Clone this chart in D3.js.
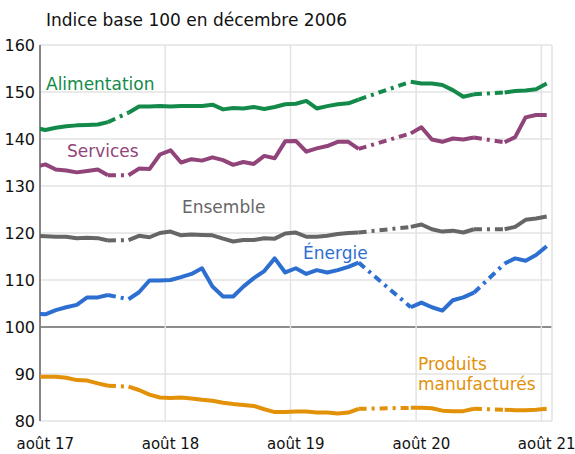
<!DOCTYPE html>
<html><head><meta charset="utf-8">
<script src="https://cdn.jsdelivr.net/npm/d3@7"></script>
<style>body{margin:0;background:#fff} text{font-family:"DejaVu Sans",sans-serif}</style>
</head><body><svg id="c" width="575" height="454"></svg>
<script>
// Monthly data, July 2017 .. August 2021 (null = no observation, drawn dashed)
const firstMonth = "2017-07";
const lastMonth = "2021-08";
const alimentation = [142.4,141.9,142.4,142.7,142.9,143.0,143.1,143.6,null,145.6,146.9,146.9,147.0,146.9,147.0,147.0,147.0,147.3,146.3,146.6,146.5,146.8,146.4,146.8,147.4,147.5,148.1,146.5,147.0,147.4,147.6,148.4,null,null,null,null,152.2,151.8,151.8,151.5,150.4,149.0,149.5,null,null,149.9,150.2,150.3,150.6,151.8];
const services = [134.0,134.6,133.5,133.3,132.9,133.2,133.5,132.3,null,132.3,133.7,133.6,136.7,137.6,135.0,135.7,135.4,136.1,135.5,134.5,135.1,134.7,136.4,135.9,139.5,139.6,137.3,138.0,138.5,139.4,139.4,137.9,null,null,null,null,141.2,142.5,139.9,139.4,140.1,139.9,140.3,null,null,139.3,140.4,144.6,145.1,145.1];
const ensemble = [119.4,119.3,119.2,119.2,118.9,119.0,118.9,118.4,null,118.5,119.4,119.1,120.0,120.3,119.5,119.7,119.6,119.5,118.8,118.2,118.5,118.5,118.9,118.8,119.9,120.1,119.2,119.2,119.4,119.8,120.0,120.1,null,null,null,null,121.3,121.8,120.8,120.3,120.5,120.1,120.8,null,null,120.8,121.3,122.8,123.1,123.5];
const energie = [102.8,102.7,103.6,104.2,104.7,106.3,106.3,106.8,null,105.9,107.4,109.9,109.9,110.0,110.6,111.3,112.5,108.6,106.5,106.5,108.6,110.4,111.9,114.6,111.6,112.5,111.3,112.1,111.6,112.1,112.8,113.7,null,null,null,null,104.2,105.2,104.2,103.5,105.7,106.3,107.3,null,null,113.5,114.6,114.1,115.3,117.2];
const produits = [89.4,89.4,89.4,89.2,88.7,88.6,88.0,87.5,null,87.3,86.6,85.6,85.0,84.9,85.0,84.8,84.5,84.3,83.9,83.6,83.4,83.2,82.5,81.9,81.9,82.0,82.0,81.8,81.8,81.6,81.8,82.6,null,null,null,null,82.8,82.8,82.7,82.2,82.1,82.1,82.6,null,null,82.4,82.3,82.3,82.4,82.6];
const yTicks = [80,90,100,110,120,130,140,150,160];
const xTickMonths = ["2017-08","2018-08","2019-08","2020-08","2021-08"];
const xTickLabels = ["août 17","août 18","août 19","août 20","août 21"];
const title = "Indice base 100 en décembre 2006";

const seriesList = [
  {name:"Alimentation", values:alimentation, color:"#138a4a", lines:["Alimentation"], lx:46, ly:90},
  {name:"Services", values:services, color:"#914479", lines:["Services"], lx:67, ly:157},
  {name:"Ensemble", values:ensemble, color:"#666666", lines:["Ensemble"], lx:182, ly:213},
  {name:"Énergie", values:energie, color:"#2d6fd1", lines:["Énergie"], lx:303, ly:259},
  {name:"Produits manufacturés", values:produits, color:"#e39109", lines:["Produits","manufacturés"], lx:418, ly:370}
];

const W=575,H=454, L=40, R=552, T=45, B=421;
const parse = d3.timeParse("%Y-%m");
const months = d3.timeMonth.range(parse(firstMonth), d3.timeMonth.offset(parse(lastMonth),1));
const x = d3.scaleTime().domain([parse("2017-08"), parse("2021-09")]).range([L,R]);
const y = d3.scaleLinear().domain([80,160]).range([B,T]);
const mid = d => (x(d) + x(d3.timeMonth.offset(d,1)))/2;

const svg = d3.select("#c");
svg.append("defs").append("clipPath").attr("id","clip").append("rect")
  .attr("x",L).attr("y",T-5).attr("width",R-L).attr("height",B-T+10);

const grid = svg.append("g");
grid.selectAll("line.h").data(yTicks).join("line")
  .attr("x1",L).attr("x2",R).attr("y1",d=>y(d)).attr("y2",d=>y(d))
  .attr("stroke",d=>d===100?"#666":"#e3e3e3").attr("stroke-width",1.5);
grid.selectAll("line.v").data(xTickMonths.map(parse)).join("line")
  .attr("x1",d=>x(d)).attr("x2",d=>x(d)).attr("y1",T).attr("y2",B)
  .attr("stroke","#e3e3e3").attr("stroke-width",1.5);
grid.append("line").attr("x1",R).attr("x2",R).attr("y1",T).attr("y2",B).attr("stroke","#e3e3e3").attr("stroke-width",1.5);
grid.append("line").attr("x1",L).attr("x2",L).attr("y1",T).attr("y2",B).attr("stroke","#666").attr("stroke-width",1.5);

svg.append("g").selectAll("text").data(yTicks).join("text")
  .attr("x",35).attr("y",d=>y(d)).attr("dy","0.36em").attr("text-anchor","end")
  .attr("font-size",16).attr("fill","#111").text(d=>d);
svg.append("g").selectAll("text").data(xTickMonths).join("text")
  .attr("x",d=>mid(parse(d))).attr("y",449).attr("text-anchor","middle")
  .attr("font-size",15).attr("fill","#111").text((d,i)=>xTickLabels[i]);
svg.append("text").attr("x",46).attr("y",26).attr("font-size",17).attr("fill","#111").text(title);

const plot = svg.append("g").attr("clip-path","url(#clip)");
const line = d3.line().defined(d=>d.v!=null).x(d=>mid(d.t)).y(d=>y(d.v)).curve(d3.curveLinear);

seriesList.forEach(s=>{
  const pts = months.map((t,i)=>({t, v:s.values[i]}));
  const gaps=[];
  for(let i=1;i<pts.length;i++){
    if(pts[i].v==null && pts[i-1].v!=null){
      let j=i; while(j<pts.length && pts[j].v==null) j++;
      if(j<pts.length) gaps.push([pts[i-1],pts[j]]);
    }
  }
  plot.selectAll(null).data(gaps).join("path")
    .attr("d",g=>d3.line().x(d=>mid(d.t)).y(d=>y(d.v))(g))
    .attr("fill","none").attr("stroke",s.color).attr("stroke-width",4)
    .attr("stroke-dasharray","8,5,3,5");
  plot.append("path").attr("d",line(pts)).attr("fill","none")
    .attr("stroke",s.color).attr("stroke-width",4).attr("stroke-linejoin","round");
  const t = svg.append("text").attr("x",s.lx).attr("y",s.ly).attr("font-size",17).attr("fill",s.color);
  s.lines.forEach((ln,k)=>t.append("tspan").attr("x",s.lx).attr("dy",k?19.5:0).text(ln));
});
</script></body></html>
